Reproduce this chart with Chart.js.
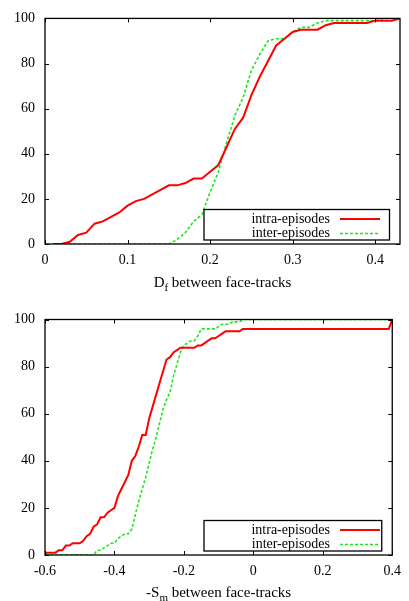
<!DOCTYPE html>
<html>
<head>
<meta charset="utf-8">
<script src="https://cdn.jsdelivr.net/npm/chart.js@4.4.1/dist/chart.umd.min.js"></script>
<style>
  html, body { margin: 0; padding: 0; background: #fff; }
  .box { position: relative; width: 409px; }
  #b1 { height: 300px; }
  #b2 { height: 301px; }
  canvas { display: block; }
</style>
</head>
<body>
<div class="box" id="b1"><canvas id="c1"></canvas></div>
<div class="box" id="b2"><canvas id="c2"></canvas></div>
<script>
// ---------- data ----------
const seriesNames = ['intra-episodes', 'inter-episodes'];

// Top chart: D_f between face-tracks
const topX = [0.01,0.02,0.03,0.04,0.05,0.06,0.07,0.08,0.09,0.10,
              0.11,0.12,0.13,0.14,0.15,0.16,0.17,0.18,0.19,0.20,
              0.21,0.22,0.23,0.24,0.25,0.26,0.27,0.28,0.29,0.30,
              0.31,0.32,0.33,0.34,0.35,0.36,0.37,0.38,0.39,0.40,
              0.41,0.42,0.43];
const topIntra = [0,0,1,4,5,9,10,12,14,17,
                  19,20,22,24,26,26,27,29,29,32,
                  35,43,51,56,66,74,81,88,91,94,
                  95,95,95,97,98,98,98,98,98,99,
                  99,99,100];
const topInter = [0,0,0,0,0,0,0,0,0,0,
                  0,0,0,0,0,2,5,10,13,23,
                  32,45,57,65,77,84,90,91,91,94,
                  96,96,98,99,99,99,99,99,99,99,
                  100,100,100];
const topTickValues = [0, 0.1, 0.2, 0.3, 0.4];
const topTickLabels = ['0', '0.1', '0.2', '0.3', '0.4'];

// Bottom chart: -S_m between face-tracks
const botX = [-0.60,-0.59,-0.58,-0.57,-0.56,-0.55,-0.54,-0.53,-0.52,-0.51,
              -0.50,-0.49,-0.48,-0.47,-0.46,-0.45,-0.44,-0.43,-0.42,-0.41,
              -0.40,-0.39,-0.38,-0.37,-0.36,-0.35,-0.34,-0.33,-0.32,-0.31,
              -0.30,-0.29,-0.28,-0.27,-0.26,-0.25,-0.24,-0.23,-0.22,-0.21,
              -0.20,-0.19,-0.18,-0.17,-0.16,-0.15,-0.14,-0.13,-0.12,-0.11,
              -0.10,-0.09,-0.08,-0.07,-0.06,-0.05,-0.04,-0.03,
              0.39,0.40];
const botIntra = [1,1,1,1,2,2,4,4,5,5,
                  5,6,8,9,12,13,16,16,18,19,
                  20,25,28,31,34,40,42,46,51,51,
                  58,63,68,73,78,83,84,86,87,88,
                  88,88,88,88,89,89,90,91,92,92,
                  93,94,95,95,95,95,95,96,
                  96,100];
const botInter = [0,0,0,0,0,0,0,0,0,0,
                  0,0,0,0,0,2,2,3,4,5,
                  5,7,8,9,9,11,17,23,28,33,
                  39,45,50,56,62,66,69,76,81,86,
                  89,90,91,91,93,96,96,96,96,96,
                  97,98,98,98,99,99,99,100,
                  100,100];
const botTickValues = [-0.6, -0.4, -0.2, 0, 0.2, 0.4];
const botTickLabels = ['-0.6', '-0.4', '-0.2', '0', '0.2', '0.4'];

const yTickValues = [0, 20, 40, 60, 80, 100];
const yTickLabels = ['0', '20', '40', '60', '80', '100'];

// ---------- styling ----------
const FONT = '"Liberation Serif", "DejaVu Serif", serif';
const RED = '#ff0000';
const GREEN = '#1ee61e';

function pts(xs, ys) { return xs.map((x, i) => ({ x: x, y: ys[i] })); }

// frame + inward ticks (gnuplot style, mirrored)
const framePlugin = {
  id: 'frame',
  afterDatasetsDraw(chart) {
    const { ctx, chartArea: a, scales } = chart;
    ctx.save();
    ctx.strokeStyle = '#000';
    ctx.lineWidth = 1;
    const tl = 4;
    scales.x.ticks.forEach(t => {
      const px = Math.round(scales.x.getPixelForValue(t.value)) + 0.5;
      ctx.beginPath();
      ctx.moveTo(px, a.bottom); ctx.lineTo(px, a.bottom - tl);
      ctx.moveTo(px, a.top); ctx.lineTo(px, a.top + tl);
      ctx.stroke();
    });
    scales.y.ticks.forEach(t => {
      const py = Math.round(scales.y.getPixelForValue(t.value)) + 0.5;
      ctx.beginPath();
      ctx.moveTo(a.left, py); ctx.lineTo(a.left + tl, py);
      ctx.moveTo(a.right, py); ctx.lineTo(a.right - tl, py);
      ctx.stroke();
    });
    ctx.lineWidth = 1.3;
    ctx.strokeRect(a.left, a.top, a.right - a.left, a.bottom - a.top);
    ctx.restore();
  }
};

// gnuplot-like legend box (bottom-right inside plot)
const legendPlugin = {
  id: 'gpLegend',
  afterDraw(chart, args, opts) {
    const { ctx, chartArea: a } = chart;
    const x0 = opts.left, x1 = a.right - opts.rightGap;
    const y1 = a.bottom - opts.bottomGap, y0 = y1 - opts.height;
    ctx.save();
    ctx.fillStyle = '#fff';
    ctx.fillRect(x0, y0, x1 - x0, y1 - y0);
    ctx.strokeStyle = '#000';
    ctx.lineWidth = 1.3;
    ctx.strokeRect(x0, y0, x1 - x0, y1 - y0);
    ctx.font = '14px ' + FONT;
    ctx.textAlign = 'right';
    ctx.textBaseline = 'middle';
    chart.data.datasets.forEach((ds, i) => {
      const cy = y0 + opts.rowTop + i * opts.rowGap;
      ctx.fillStyle = '#000';
      ctx.fillText(ds.label, opts.textRight, cy);
      ctx.beginPath();
      ctx.strokeStyle = ds.borderColor;
      ctx.lineWidth = ds.borderWidth;
      ctx.setLineDash(ds.borderDash || []);
      ctx.moveTo(opts.sampleL, cy); ctx.lineTo(opts.sampleR, cy);
      ctx.stroke();
      ctx.setLineDash([]);
    });
    ctx.restore();
  }
};

// axis title with subscript
const titlePlugin = {
  id: 'subTitle',
  afterDraw(chart, args, opts) {
    const { ctx, chartArea: a } = chart;
    const big = '15px ' + FONT, small = '11px ' + FONT;
    ctx.save();
    ctx.fillStyle = '#000';
    ctx.textBaseline = 'alphabetic';
    ctx.textAlign = 'left';
    ctx.font = big;
    const w1 = ctx.measureText(opts.main).width;
    const w3 = ctx.measureText(opts.rest).width;
    ctx.font = small;
    const w2 = ctx.measureText(opts.sub).width;
    const total = w1 + w2 + w3;
    let x = (a.left + a.right) / 2 - total / 2;
    const y = a.bottom + opts.offset;
    ctx.font = big; ctx.fillText(opts.main, x, y); x += w1;
    ctx.font = small; ctx.fillText(opts.sub, x, y + 4); x += w2;
    ctx.font = big; ctx.fillText(opts.rest, x, y);
    ctx.restore();
  }
};

function makeChart(canvasId, xs, intra, inter, xMin, xMax, xTickVals, xTickLbls, padTop, xHeight, title) {
  return new Chart(document.getElementById(canvasId), {
    type: 'line',
    data: {
      datasets: [
        { label: seriesNames[0], data: pts(xs, intra), borderColor: RED, borderWidth: 2,
          pointRadius: 0, tension: 0, fill: false },
        { label: seriesNames[1], data: pts(xs, inter), borderColor: GREEN, borderWidth: 1.6,
          borderDash: [3, 2], pointRadius: 0, tension: 0, fill: false }
      ]
    },
    options: {
      responsive: true,
      maintainAspectRatio: false,
      animation: false,
      events: [],
      layout: { padding: { left: 0, right: 9, top: padTop, bottom: 0 } },
      plugins: {
        legend: { display: false },
        tooltip: { enabled: false },
        gpLegend: { left: 204, rightGap: 10.5, bottomGap: 4, height: 30.5,
                    rowTop: 9.5, rowGap: 14.5, textRight: 330, sampleL: 340, sampleR: 380 },
        subTitle: title
      },
      scales: {
        x: {
          type: 'linear', min: xMin, max: xMax,
          grid: { display: false, drawTicks: false },
          border: { display: false },
          afterBuildTicks: s => { s.ticks = xTickVals.map(v => ({ value: v })); },
          afterFit: s => { s.height = xHeight; },
          ticks: {
            autoSkip: false, maxRotation: 0, padding: 8, color: '#000',
            font: { family: FONT, size: 14 },
            callback: (v, i) => xTickLbls[i]
          }
        },
        y: {
          type: 'linear', min: 0, max: 100,
          grid: { display: false, drawTicks: false },
          border: { display: false },
          afterBuildTicks: s => { s.ticks = yTickValues.map(v => ({ value: v })); },
          afterFit: s => { s.width = 45; },
          ticks: {
            autoSkip: false, padding: 10, color: '#000',
            font: { family: FONT, size: 14 },
            callback: (v, i) => yTickLabels[i]
          }
        }
      }
    },
    plugins: [framePlugin, legendPlugin, titlePlugin]
  });
}

makeChart('c1', topX, topIntra, topInter, 0, 0.43, topTickValues, topTickLabels, 9.5, 56,
  { main: 'D', sub: 'f', rest: ' between face-tracks', offset: 43 });
makeChart('c2', botX, botIntra, botInter, -0.6, 0.4, botTickValues, botTickLabels, 19.5, 46,
  { main: '-S', sub: 'm', rest: ' between face-tracks', offset: 42 });
</script>
</body>
</html>
